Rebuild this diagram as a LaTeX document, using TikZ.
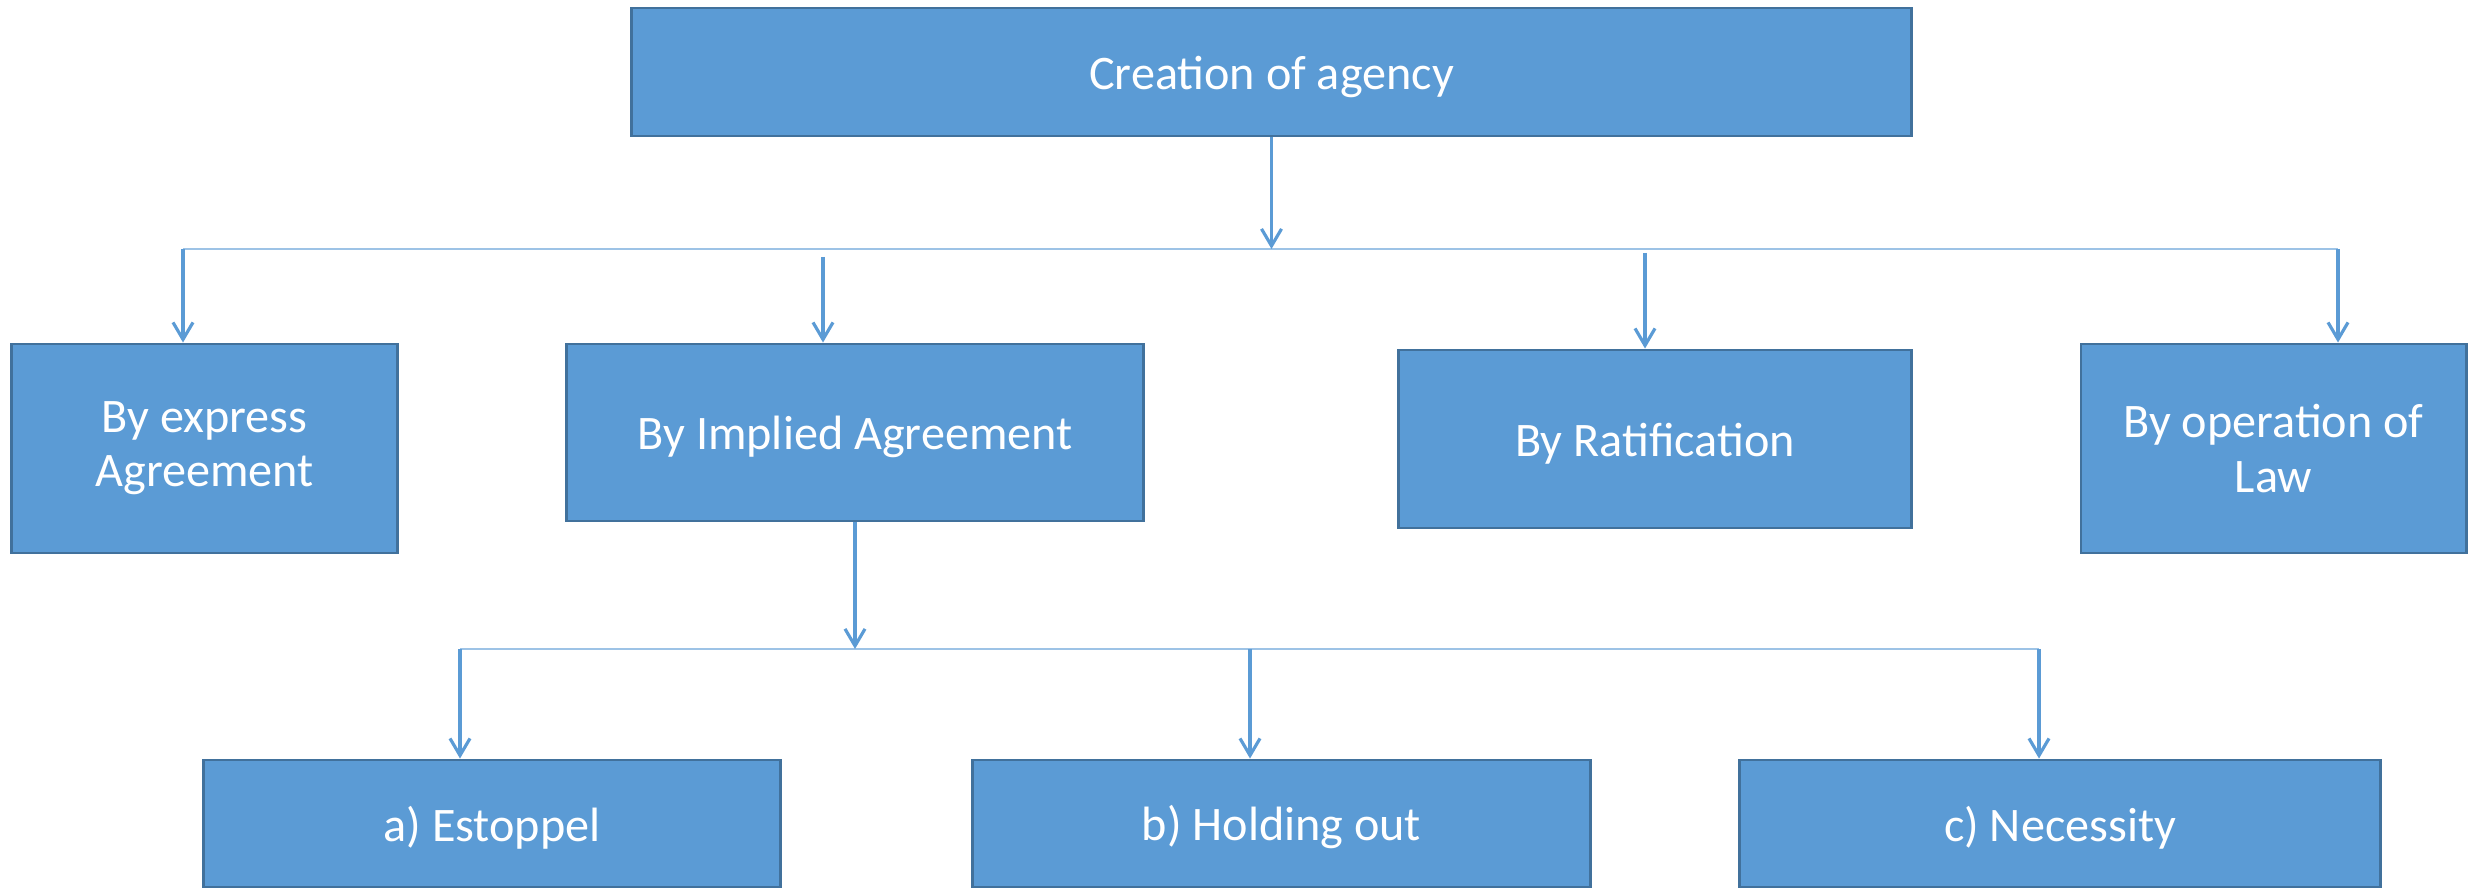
\documentclass[tikz,border=0pt]{standalone}
\usepackage{fontspec}
\setmainfont{Carlito}
\usetikzlibrary{arrows.meta}
\definecolor{boxfill}{HTML}{5B9BD5}
\definecolor{boxline}{HTML}{41719C}
\definecolor{barline}{HTML}{9DC3E6}
\tikzset{
    stage/.style={draw=boxline, line width=0.8pt, fill=boxfill, text=white,
        align=center, inner sep=0pt, font=\fontsize{13.7}{15.4}\selectfont,
        execute at begin node={\rule{0pt}{12.3pt}}},
    feed/.style={boxfill, line width=0.9pt,
        -{Straight Barb[length=0.17cm,width=0.2cm]}},
    bar/.style={barline, line width=0.7pt}
}
\begin{document}
\begin{tikzpicture}[x=0.01cm, y=-0.01cm]
        \useasboundingbox (0,0) rectangle (2476,889);
        \node [stage, minimum width=12.79cm, minimum height=1.28cm] (top) at (1271.5,72) {Creation of agency};
        \node [stage, minimum width=3.85cm, minimum height=2.09cm] (express) at (204.5,448.5) {By express\\Agreement};
        \node [stage, minimum width=5.76cm, minimum height=1.77cm] (implied) at (855,432.5) {By Implied Agreement};
        \node [stage, minimum width=5.12cm, minimum height=1.78cm] (ratify) at (1655,439) {By Ratification};
        \node [stage, minimum width=3.85cm, minimum height=2.09cm] (law) at (2273.5,448.5) {By operation of\\Law};
        \node [stage, minimum width=5.76cm, minimum height=1.27cm] (estoppel) at (492,823.5) {a) Estoppel};
        \node [stage, minimum width=6.17cm, minimum height=1.27cm] (holding) at (1281.5,823.5) {b) Holding out};
        \node [stage, minimum width=6.40cm, minimum height=1.27cm] (necessity) at (2060,823.5) {c) Necessity};

        % upper branch
        \coordinate (u1) at (183,249);
        \coordinate (u2) at (823,257);
        \coordinate (u3) at (1645,253);
        \coordinate (u4) at (2338,249);
        \draw [bar] (u1) -- (u4);
        \draw [feed] (top.south) -- (top.south |- u1);
        \draw [feed] (u1) -- (u1 |- express.north);
        \draw [feed] (u2) -- (u2 |- implied.north);
        \draw [feed] (u3) -- (u3 |- ratify.north);
        \draw [feed] (u4) -- (u4 |- law.north);

        % lower branch
        \coordinate (l1) at (460,649);
        \coordinate (l2) at (1250,649);
        \coordinate (l3) at (2039,649);
        \draw [bar] (l1) -- (l3);
        \draw [feed] (implied.south) -- (implied.south |- l1);
        \draw [feed] (l1) -- (l1 |- estoppel.north);
        \draw [feed] (l2) -- (l2 |- holding.north);
        \draw [feed] (l3) -- (l3 |- necessity.north);
\end{tikzpicture}
\end{document}
